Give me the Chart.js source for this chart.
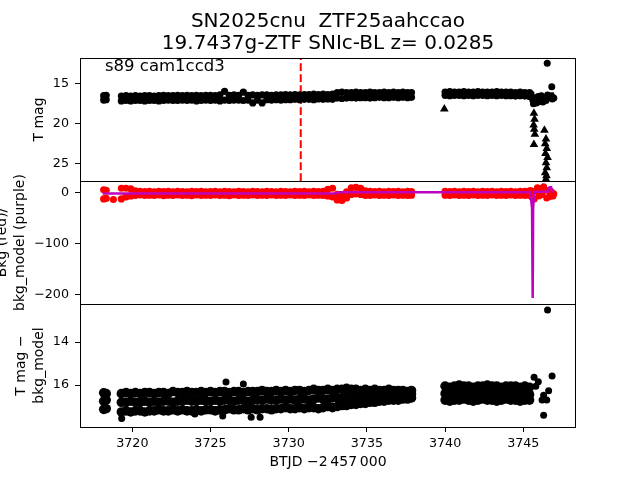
<!DOCTYPE html>
<html><head><meta charset="utf-8">
<script src="https://cdn.jsdelivr.net/npm/chart.js@4.4.1/dist/chart.umd.min.js"></script>
<style>
html,body{margin:0;padding:0;background:#fff;}
#wrap{position:relative;width:640px;height:480px;overflow:hidden;background:#fff;}
canvas{position:absolute;left:0;}
</style></head><body>
<div id="wrap">
<canvas id="c1" width="640" height="183" style="top:0px"></canvas>
<canvas id="c2" width="640" height="146" style="top:170px"></canvas>
<canvas id="c3" width="640" height="178" style="top:302px"></canvas>
</div>
<script>
const FONT = "'DejaVu Sans', sans-serif";
const titleLines = ['SN2025cnu  ZTF25aahccao', '19.7437g-ZTF SNIc-BL z= 0.0285'];
const fieldLabel = 's89 cam1ccd3';
const xLabel = 'BTJD \u22122\u2009457\u2009000';
const xTicks = [3720, 3725, 3730, 3735, 3740, 3745];
const tmagTicks = [15, 20, 25];
const bkgTicks = [0, -100, -200];
const diffTicks = [14, 16];
const markerTime = 3730.77;

// sampled times of the dense light-curve bands (segments A | B | C | D)
const bandTime = [
 3718.17, 3718.33,
 3719.3, 3719.6, 3719.9, 3720.2, 3720.5, 3720.8, 3721.1, 3721.4, 3721.7, 3722.0,
 3722.3, 3722.6, 3722.9, 3723.2, 3723.5, 3723.8, 3724.1, 3724.4, 3724.7, 3725.0,
 3725.3, 3725.6, 3725.9, 3726.2, 3726.5, 3726.8, 3727.1, 3727.4, 3727.7, 3728.0,
 3728.3, 3728.6, 3728.9, 3729.2, 3729.5, 3729.8, 3730.1, 3730.4, 3730.7, 3731.0,
 3731.3, 3731.6, 3731.9, 3732.2, 3732.5, 3732.8,
 3733.1, 3733.4, 3733.7, 3734.0, 3734.3, 3734.6, 3734.9, 3735.2, 3735.5, 3735.8, 3736.1, 3736.4, 3736.7, 3737.0, 3737.3, 3737.6, 3737.85,
 3740.0, 3740.3, 3740.6, 3740.9, 3741.2, 3741.5, 3741.8, 3742.1, 3742.4, 3742.7, 3743.0, 3743.3, 3743.6, 3743.9, 3744.2, 3744.5, 3744.8, 3745.1, 3745.4
];
// T mag band (upper / lower edge)
const tmagHi = [
 16.5, 16.45,
 16.55, 16.5, 16.55, 16.5, 16.55, 16.5, 16.5, 16.55, 16.5, 16.45,
 16.5, 16.5, 16.45, 16.5, 16.45, 16.5, 16.45, 16.5, 16.45, 16.45,
 16.5, 16.4, 15.95, 16.45, 16.4, 16.45, 16.05, 16.45, 16.4, 16.45,
 16.4, 16.4, 16.45, 16.4, 16.4, 16.35, 16.4, 16.35, 16.4, 16.35,
 16.35, 16.3, 16.35, 16.3, 16.35, 16.3,
 16.1, 16.05, 16.1, 16.1, 16.05, 16.1, 16.1, 16.05, 16.1, 16.1, 16.05, 16.1, 16.05, 16.1, 16.05, 16.1, 16.1,
 16.05, 16.0, 16.05, 16.05, 16.0, 16.05, 16.05, 16.0, 16.05, 16.05, 16.05, 16.0, 16.05, 16.05, 16.05, 16.1, 16.05, 16.1, 16.1
];
const tmagLo = [
 17.05, 17.0,
 17.15, 17.1, 17.15, 17.1, 17.1, 17.15, 17.1, 17.1, 17.15, 17.1,
 17.05, 17.1, 17.1, 17.05, 17.1, 17.05, 17.15, 17.1, 17.05, 17.1,
 17.05, 17.15, 17.05, 17.1, 17.05, 17.05, 17.1, 17.05, 17.4, 17.05,
 17.4, 17.0, 17.05, 17.0, 17.05, 17.0, 17.0, 16.95, 17.0, 16.95,
 16.95, 17.0, 16.9, 16.95, 16.9, 16.95,
 16.8, 16.85, 16.8, 16.75, 16.8, 16.75, 16.75, 16.8, 16.75, 16.7, 16.75, 16.75, 16.7, 16.75, 16.7, 16.75, 16.7,
 16.45, 16.5, 16.45, 16.45, 16.5, 16.45, 16.5, 16.45, 16.45, 16.5, 16.45, 16.5, 16.45, 16.5, 16.5, 16.55, 16.5, 16.55, 16.6
];
const tmagExtraTime = [3745.5, 3745.6, 3745.65, 3745.75, 3745.85, 3745.95, 3746.05, 3746.15, 3746.25, 3746.35, 3746.45, 3746.55, 3746.65, 3746.75, 3746.85, 3746.95, 3746.82, 3746.53];
const tmagExtra = [16.3, 17.0, 17.5, 16.8, 17.4, 16.6, 17.2, 16.5, 17.3, 16.9, 17.1, 16.4, 16.7, 16.5, 16.9, 16.8, 15.4, 12.45];
// upper limits (triangles)
const limTime = [3739.95, 3745.68, 3745.72, 3745.66, 3745.7, 3745.74, 3745.68, 3746.35, 3746.45, 3746.4, 3746.5, 3746.42, 3746.55, 3746.45, 3746.5, 3746.4, 3746.48, 3746.45, 3745.9, 3746.2, 3746.9];
const limMag = [18.15, 18.7, 19.45, 20.15, 20.7, 21.3, 22.6, 20.8, 21.9, 22.5, 23.1, 23.7, 24.2, 24.85, 25.5, 26.1, 26.5, 26.9, 16.9, 16.7, 16.6];

// background (red band, upper / lower edge)
const bkgHi = [
 6, 5,
 9, 9, 8, 4, 3, 2.5, 3, 2, 3, 2.5,
 3, 2, 3, 2.5, 2, 3, 2.5, 3, 2, 2.5,
 3, 2, 3, 2.5, 2, 3, 2.5, 2, 3, 2.5,
 2, 3, 2.5, 2, 3, 2.5, 2, 3, 2.5, 3,
 2, 3, 2.5, 3, 7, 9,
 -3, -4, 2, 10, 11, 9, 4, 3, 2.5, 3, 2, 3, 2.5, 3, 2, 3, 2.5,
 3, 2.5, 3, 2, 3, 2.5, 3, 2, 3, 2.5, 3, 2, 3, 2.5, 3, 2, 3, 3, 4
];
const bkgLo = [
 -12, -11,
 -12, -8, -6, -5, -4, -5, -4.5, -5, -4, -5.5,
 -4.5, -5, -4, -5, -4.5, -5.5, -4, -5, -4.5, -5,
 -4, -5, -4.5, -5.5, -4, -5, -4.5, -5, -4, -5,
 -4.5, -5, -4, -5, -4.5, -5, -4, -5, -4.5, -5,
 -4, -5, -4.5, -5, -6, -8,
 -14, -15, -10, -3, -2, -3, -5, -5, -4, -5, -4.5, -5, -4, -5, -4.5, -5, -4.5,
 -4.5, -5, -4, -5, -4.5, -5, -4, -5, -4.5, -5, -4, -5, -4.5, -5, -4, -5, -4.5, -5, -5
];
const bkgExtraTime = [3718.79, 3745.5, 3745.55, 3745.7, 3745.8, 3745.9, 3746.0, 3746.1, 3746.2, 3746.3, 3746.4, 3746.5, 3746.6, 3746.7, 3746.8, 3746.9, 3746.95];
const bkgExtra = [-13, 4, -8, -12, 3, 10, -6, 8, -3, 12, 6, -10, 4, -7, 2, -6, -2];
// background model (purple line)
const modelTime = [3718.1, 3733.0, 3733.2, 3745.45, 3745.56, 3745.6, 3745.63, 3745.7, 3746.55, 3746.68, 3746.78, 3746.85, 3746.92];
const modelVal = [-1.5, -1.5, 1.2, 1.2, -30, -206, -30, 2, 2, 11, 11, 3, 2];

// T mag - bkg_model band (three rows)
const diffHi = [
 16.36, 16.4,
 16.4, 16.35, 16.4, 16.35, 16.4, 16.35, 16.35, 16.4, 16.35, 16.35,
 16.4, 16.3, 16.35, 16.35, 16.3, 16.35, 16.35, 16.3, 16.35, 16.3,
 16.35, 16.3, 16.3, 16.35, 16.3, 16.3, 16.35, 16.3, 16.3, 16.3,
 16.25, 16.3, 16.3, 16.25, 16.3, 16.25, 16.3, 16.25, 16.25, 16.3,
 16.25, 16.2, 16.25, 16.25, 16.2, 16.25,
 16.2, 16.2, 16.15, 16.2, 16.2, 16.25, 16.2, 16.25, 16.2, 16.25, 16.25, 16.2, 16.25, 16.25, 16.25, 16.3, 16.25,
 16.05, 16.1, 16.05, 16.0, 16.05, 16.05, 16.1, 16.05, 16.05, 16.0, 16.05, 16.05, 16.1, 16.05, 16.05, 16.05, 16.1, 16.05, 16.1
];
const diffMid = [
 16.75, 16.7,
 16.8, 16.8, 16.75, 16.8, 16.8, 16.75, 16.8, 16.75, 16.8, 16.75,
 16.75, 16.8, 16.75, 16.75, 16.7, 16.75, 16.75, 16.7, 16.75, 16.75,
 16.7, 16.75, 16.7, 16.7, 16.75, 16.7, 16.7, 16.75, 16.7, 16.7,
 16.7, 16.65, 16.7, 16.7, 16.65, 16.7, 16.65, 16.7, 16.65, 16.65,
 16.7, 16.65, 16.6, 16.65, 16.65, 16.6,
 16.6, 16.6, 16.55, 16.55, 16.55, 16.5, 16.55, 16.5, 16.5, 16.5, 16.45, 16.5, 16.45, 16.45, 16.45, 16.45, 16.4,
 16.4, 16.35, 16.4, 16.35, 16.4, 16.4, 16.35, 16.4, 16.35, 16.4, 16.4, 16.35, 16.4, 16.4, 16.35, 16.4, 16.4, 16.4, 16.45
];
const diffLo = [
 17.13, 17.1,
 17.25, 17.2, 17.25, 17.2, 17.2, 17.25, 17.2, 17.2, 17.15, 17.2,
 17.2, 17.15, 17.2, 17.15, 17.2, 17.2, 17.15, 17.2, 17.15, 17.15,
 17.2, 17.15, 17.15, 17.1, 17.15, 17.15, 17.1, 17.15, 17.1, 17.15,
 17.1, 17.1, 17.15, 17.1, 17.1, 17.05, 17.1, 17.1, 17.05, 17.1,
 17.05, 17.05, 17.1, 17.05, 17.0, 17.05,
 17.0, 16.95, 16.95, 16.9, 16.9, 16.85, 16.85, 16.8, 16.8, 16.75, 16.75, 16.7, 16.7, 16.7, 16.65, 16.65, 16.6,
 16.7, 16.75, 16.7, 16.7, 16.65, 16.7, 16.75, 16.7, 16.65, 16.7, 16.7, 16.75, 16.7, 16.65, 16.7, 16.7, 16.75, 16.7, 16.7
];
const diffExtraTime = [3725.99, 3727.1, 3719.32, 3724.0, 3725.78, 3727.6, 3728.17, 3745.69, 3745.96, 3745.8, 3746.84, 3746.62, 3746.3, 3746.2, 3746.5, 3746.3, 3746.55];
const diffExtra = [15.86, 15.95, 17.55, 17.35, 17.44, 17.5, 17.5, 15.64, 15.85, 16.05, 15.58, 16.26, 16.47, 16.7, 16.7, 17.4, 12.51];

const xRange = [3716.655, 3748.37];
const tmagRange = [11.8, 27.14];
const bkgRange = [-217.7, 23.2];
const diffRange = [12.23, 17.95];

function pts(xs, ys) { const n = Math.min(xs.length, ys.length); const o = []; for (let i = 0; i < n; i++) o.push({x: xs[i], y: ys[i]}); return o; }

const framePlugin = {
  id: 'frame',
  afterDatasetsDraw(chart) {
    const {ctx, chartArea: a} = chart;
    ctx.save();
    ctx.strokeStyle = '#000'; ctx.lineWidth = 1;
    ctx.strokeRect(Math.round(a.left) + 0.5, Math.round(a.top) + 0.5, Math.round(a.right - a.left) - 1, Math.round(a.bottom - a.top));
    ctx.restore();
  }
};
const cornerLabel = {
  id: 'cornerLabel',
  afterDatasetsDraw(chart, args, opts) {
    if (!opts || !opts.text) return;
    const {ctx, chartArea: a} = chart;
    ctx.save();
    ctx.font = '16.5px ' + FONT; ctx.fillStyle = '#000'; ctx.textBaseline = 'alphabetic'; ctx.textAlign = 'left';
    ctx.fillText(opts.text, a.left + 25, a.top + 12.7);
    ctx.restore();
  }
};
// y-axis title drawn without width compression (matplotlib lets it overflow)
const yTitle = {
  id: 'yTitle',
  afterDraw(chart, args, opts) {
    if (!opts || !opts.lines) return;
    const {ctx, chartArea: a} = chart;
    const cy = (a.top + a.bottom) / 2;
    ctx.save();
    ctx.font = '14px ' + FONT; ctx.fillStyle = '#000'; ctx.textAlign = 'center'; ctx.textBaseline = 'middle';
    opts.lines.forEach((line, i) => {
      ctx.save();
      ctx.translate(opts.x[i], cy);
      ctx.rotate(-Math.PI / 2);
      ctx.fillText(line, 0, 0);
      ctx.restore();
    });
    ctx.restore();
  }
};

function yScale(range, ticks, reverse) {
  return {
    type: 'linear', min: range[0], max: range[1], reverse: reverse,
    afterBuildTicks: s => { s.ticks = ticks.map(v => ({value: v})); },
    afterFit: s => { s.width = 80; s.paddingTop = 0; s.paddingBottom = 0; },
    grid: {display: true, drawOnChartArea: false, drawTicks: true, tickLength: 5, color: '#000', tickColor: '#000', tickWidth: 1},
    border: {display: false},
    ticks: {color: '#000', font: {family: FONT, size: 12.7}, padding: 6,
      callback: v => (v < 0 ? '\u2212' + Math.abs(v) : String(v))}
  };
}
function xScale(show) {
  return {
    type: 'linear', min: xRange[0], max: xRange[1], display: show,
    afterBuildTicks: s => { s.ticks = xTicks.map(v => ({value: v})); },
    afterFit: s => { if (show) s.height = 53; s.paddingLeft = 0; s.paddingRight = 0; },
    grid: {display: true, drawOnChartArea: false, drawTicks: true, tickLength: 5, color: '#000', tickColor: '#000'},
    border: {display: false},
    ticks: {color: '#000', font: {family: FONT, size: 12.7}, padding: 4, maxRotation: 0, callback: v => String(v)},
    title: {display: show, text: xLabel, color: '#000', font: {family: FONT, size: 14, lineHeight: 1.25}, padding: {top: 0, bottom: 8.75}}
  };
}
const common = {
  responsive: false, animation: false, devicePixelRatio: 1, events: [],
};
const dot = (data, color, r) => ({data, backgroundColor: color, borderColor: color, borderWidth: 0, pointRadius: r, pointHoverRadius: r, clip: 0});

new Chart(document.getElementById('c1'), {
  type: 'scatter',
  data: {datasets: [
    dot(pts(bandTime, tmagHi), '#000', 3.6),
    dot(pts(bandTime, tmagLo), '#000', 3.6),
    dot(pts(tmagExtraTime, tmagExtra), '#000', 3.5),
    Object.assign(dot(pts(limTime, limMag), '#000', 5), {pointStyle: 'triangle'}),
    {data: [{x: markerTime, y: tmagRange[1]}, {x: markerTime, y: tmagRange[0]}], showLine: true, pointRadius: 0, borderColor: '#ff0000', borderWidth: 2, borderDash: [7.7, 3.3], clip: 0}
  ]},
  options: Object.assign({}, common, {
    layout: {autoPadding: false, padding: {left: 0, right: 64, top: 0, bottom: 2}},
    scales: {x: xScale(false), y: yScale(tmagRange, tmagTicks, true)},
    plugins: {legend: {display: false}, tooltip: {enabled: false},
      title: {display: true, fullSize: false, text: titleLines, color: '#000', font: {family: FONT, size: 20, weight: 'normal', lineHeight: 1.1}, padding: {top: 10.5, bottom: 3.5}},
      cornerLabel: {text: fieldLabel},
      yTitle: {lines: ['T mag'], x: [39]}}
  }),
  plugins: [framePlugin, cornerLabel, yTitle]
});

new Chart(document.getElementById('c2'), {
  type: 'scatter',
  data: {datasets: [
    {data: pts(modelTime, modelVal), showLine: true, pointRadius: 0, borderColor: '#bf00bf', borderWidth: 2.5, clip: 0},
    dot(pts(bandTime, bkgHi), '#ff0000', 3.6),
    dot(pts(bandTime, bkgLo), '#ff0000', 3.6),
    dot(pts(bkgExtraTime, bkgExtra), '#ff0000', 3.5)
  ]},
  options: Object.assign({}, common, {
    layout: {autoPadding: false, padding: {left: 0, right: 64, top: 11, bottom: 12}},
    scales: {x: xScale(false), y: yScale(bkgRange, bkgTicks, false)},
    plugins: {legend: {display: false}, tooltip: {enabled: false},
      yTitle: {lines: ['Bkg (red)/', 'bkg_model (purple)'], x: [2.5, 20]}}
  }),
  plugins: [framePlugin, yTitle]
});

new Chart(document.getElementById('c3'), {
  type: 'scatter',
  data: {datasets: [
    dot(pts(bandTime, diffHi), '#000', 4.8),
    dot(pts(bandTime, diffMid), '#000', 4.8),
    dot(pts(bandTime, diffLo), '#000', 4.8),
    dot(pts(diffExtraTime, diffExtra), '#000', 3.5)
  ]},
  options: Object.assign({}, common, {
    layout: {autoPadding: false, padding: {left: 0, right: 64, top: 2, bottom: 0}},
    scales: {x: xScale(true), y: yScale(diffRange, diffTicks, true)},
    plugins: {legend: {display: false}, tooltip: {enabled: false},
      yTitle: {lines: ['T mag \u2212', 'bkg_model'], x: [21.7, 39]}}
  }),
  plugins: [framePlugin, yTitle]
});
</script>
</body></html>
